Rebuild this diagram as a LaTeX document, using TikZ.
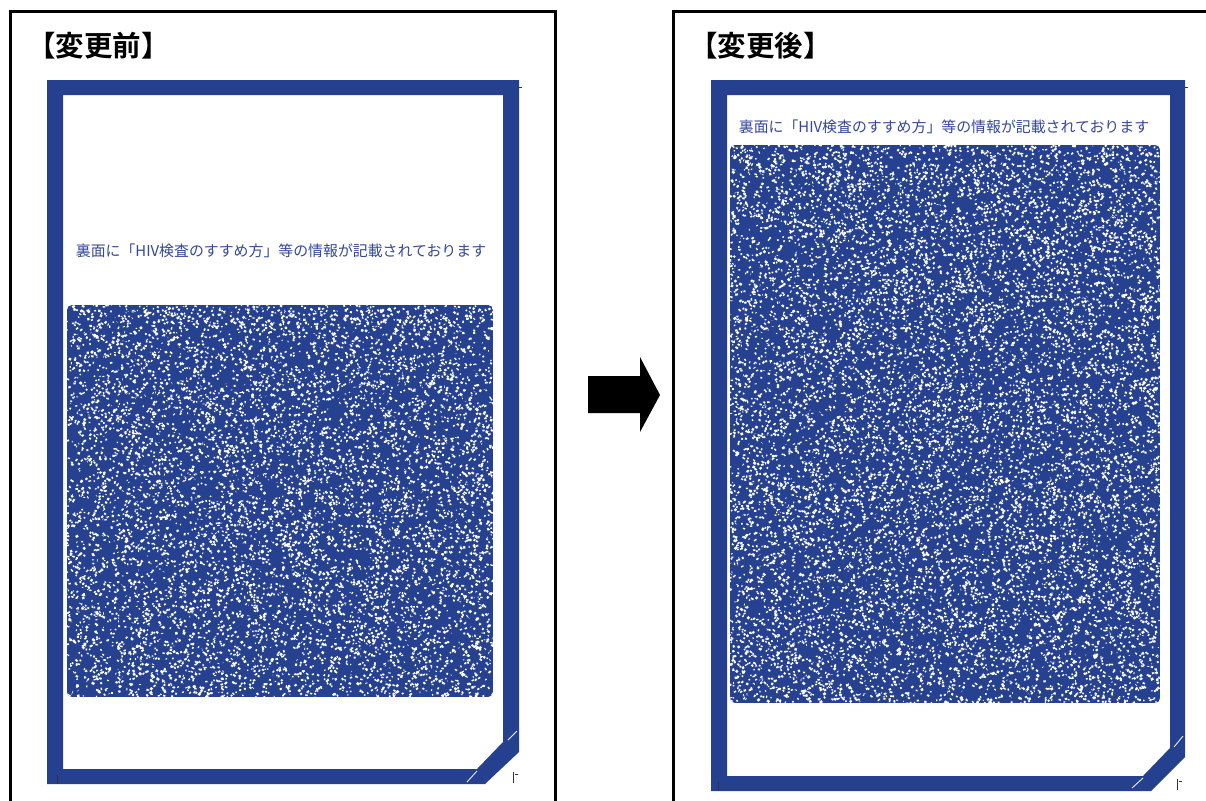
\documentclass[tikz,border=0pt]{standalone}
\usepackage{fontspec}
\newfontfamily\cjk{Noto Sans CJK JP}
\newfontfamily\cjkbold{Noto Sans CJK JP Bold}
\definecolor{cardblue}{HTML}{24408E}
\definecolor{patblue}{HTML}{26418F}
\definecolor{textblue}{HTML}{34479A}
\tikzset{
  panelbox/.style={draw=black, line width=3pt},
  frame/.style={fill=cardblue, even odd rule},
  title/.style={inner sep=0pt, anchor=west, font=\cjkbold\fontsize{28.5}{32}\selectfont},
  note/.style={inner sep=0pt, text=textblue, font=\cjk\fontsize{14.9}{17}\selectfont},
  foldmark/.style={draw=white, line width=0.8pt},
  tick/.style={draw=black!80, line width=0.8pt},
  speck/.style={draw=white, line width=#1}
}
\begin{document}
\begin{tikzpicture}[x=1pt,y=-1pt]
\useasboundingbox (0,0) rectangle (1206,800);
\fill[white] (0,0) rectangle (1206,800);
% panel boxes
\draw[panelbox] (10,806) -- (10,11.5) -- (555,11.5) -- (555,806);
\draw[panelbox] (673.5,806) -- (673.5,11.5) -- (1212,11.5);
% titles
\node[title] (t1) at (27,46) {【変更前】};
\node[title] (t2) at (689,46) {【変更後】};
% ---- left card ----
\fill[frame] (47,80) -- (519,80) -- (519,752) -- (485,784) -- (47,784) -- cycle
  (63,95) -- (503,95) -- (503,742) -- (477,769) -- (63,769) -- cycle;
\draw[foldmark] (508,740) -- (517,731);
\draw[foldmark] (467,782) -- (477,771);
\draw[tick] (57,775) -- (57,784);
\draw[tick] (513,772) -- (513,783) (515,774) -- (518,774);
\draw[tick] (519,87) -- (522,87);
\node[note] (n1) at (281,251) {裏面に「HIV検査のすすめ方」等の情報が記載されております};
\begin{scope}
\clip[rounded corners=5pt] (67,305) rectangle (493,697);
\fill[patblue] (67,305) rectangle (493,697);
\pgfmathsetseed{7}
\foreach \w in {1.4,1.9,2.4,1.6}{
\foreach \k in {1,...,4}{
\draw[speck=\w pt] \foreach \i in {1,...,500} {(67+426*rnd, 305+392*rnd) -- ++(5*rnd-2.5, 4*rnd-2)};
}}
\end{scope}
% ---- arrow ----
\fill[black] (588,376) -- (640,376) -- (640,357) -- (660,395) -- (640,432) -- (640,413) -- (588,413) -- cycle;
% ---- right card ----
\fill[frame] (711,80) -- (1185,80) -- (1185,757) -- (1151,791) -- (711,791) -- cycle
  (727,95) -- (1170,95) -- (1170,748) -- (1143,776) -- (727,776) -- cycle;
\draw[foldmark] (1174,747) -- (1183,736);
\draw[foldmark] (1132,788) -- (1143,778);
\draw[tick] (718,781) -- (718,791);
\draw[tick] (1177,779) -- (1177,790) (1179,781) -- (1182,781);
\draw[tick] (1185,87) -- (1188,87);
\node[note] (n2) at (944,127) {裏面に「HIV検査のすすめ方」等の情報が記載されております};
\begin{scope}
\clip[rounded corners=5pt] (730,145) rectangle (1160,703);
\fill[patblue] (730,145) rectangle (1160,703);
\pgfmathsetseed{11}
\foreach \w in {1.4,1.9,2.4,1.6}{
\foreach \k in {1,...,6}{
\draw[speck=\w pt] \foreach \i in {1,...,500} {(730+430*rnd, 145+558*rnd) -- ++(5*rnd-2.5, 4*rnd-2)};
}}
\end{scope}
\end{tikzpicture}
\end{document}
